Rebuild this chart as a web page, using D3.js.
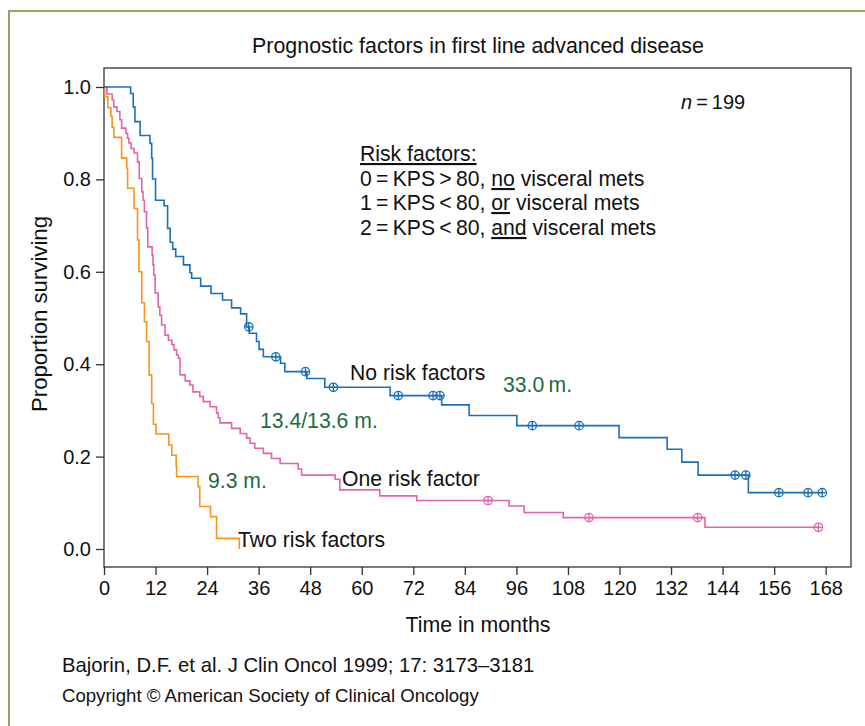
<!DOCTYPE html>
<html><head><meta charset="utf-8">
<script src="https://cdn.jsdelivr.net/npm/d3@7"></script>
<style>
body{margin:0;background:#fff}
svg{display:block}
text{font-family:"Liberation Sans",Arial,Helvetica,sans-serif;fill:#111}
</style>
</head><body>
<svg id="c" width="865" height="726"></svg>
<script>
// ---- data ----
const xTicks = [0,12,24,36,48,60,72,84,96,108,120,132,144,156,168];
const yTicks = [0,0.2,0.4,0.6,0.8,1.0];

const noRiskT = [6.2,6.8,7.2,8.4,10.7,11.1,11.3,12.0,14.0,14.8,15.4,16.0,16.7,18.5,20.0,20.4,22.5,24.9,27.6,29.7,31.8,33.2,33.8,35.5,36.1,37.1,41.1,42.1,47.2,51.4,66.6,78.6,85.0,96.1,119.9,131.1,134.5,138.3,150.0];
const noRiskS = [0.986,0.957,0.925,0.895,0.878,0.846,0.801,0.755,0.743,0.694,0.664,0.649,0.633,0.615,0.598,0.586,0.569,0.553,0.539,0.522,0.509,0.481,0.467,0.449,0.432,0.416,0.402,0.384,0.369,0.350,0.332,0.312,0.289,0.267,0.241,0.216,0.188,0.160,0.122];
const noRiskCensor = [33.7,40.0,46.9,53.4,68.5,76.6,78.2,99.7,110.6,146.9,149.4,157.1,163.9,167.2];
const noRiskEnd = 167.2;

const oneRiskT = [0.7,1.9,2.3,3.0,3.7,4.1,5.1,5.5,5.8,6.3,7.0,7.8,8.2,8.8,9.1,9.4,9.9,10.2,11.2,11.4,11.6,11.9,12.6,13.0,13.4,14.2,15.0,15.8,16.3,16.9,17.3,17.7,18.9,20.0,20.7,22.3,23.1,24.7,26.2,26.6,27.0,29.7,31.7,33.2,34.0,35.1,37.1,39.0,41.0,45.2,46.0,53.8,54.9,64.2,72.8,94.3,97.8,106.9,139.9];
const oneRiskS = [0.985,0.972,0.957,0.947,0.929,0.911,0.900,0.889,0.879,0.867,0.857,0.838,0.802,0.773,0.755,0.730,0.695,0.654,0.636,0.615,0.593,0.554,0.524,0.506,0.485,0.463,0.452,0.442,0.431,0.420,0.413,0.377,0.364,0.355,0.340,0.330,0.319,0.308,0.294,0.284,0.273,0.261,0.250,0.240,0.229,0.218,0.207,0.196,0.185,0.173,0.160,0.151,0.128,0.115,0.105,0.093,0.079,0.068,0.047];
const oneRiskCensor = [89.4,112.9,138.2,166.3];
const oneRiskEnd = 166.3;

const twoRiskT = [0.2,0.9,1.6,1.9,2.3,4.1,5.3,5.5,7.0,7.8,8.1,8.8,9.4,9.9,10.5,11.1,11.5,12.1,15.1,15.8,16.8,16.9,21.9,22.3,24.8,26.2,31.5];
const twoRiskS = [0.979,0.955,0.936,0.913,0.891,0.846,0.824,0.781,0.737,0.669,0.600,0.533,0.492,0.449,0.377,0.315,0.270,0.249,0.225,0.203,0.180,0.157,0.135,0.092,0.070,0.023,0.0];
const twoRiskCensor = [];
const twoRiskEnd = 31.5;

// ---- drawing ----
const svg = d3.select("#c");
const x = d3.scaleLinear().domain([0,168]).range([104,825.7]);
const y = d3.scaleLinear().domain([0,1]).range([549,87]);
const frame = {l:104, r:851, t:68, b:567};

// outer olive border
svg.append("path").attr("d","M9,726 V11 H865")
  .attr("fill","none").attr("stroke","#9aa062").attr("stroke-width",2);

// title
svg.append("text").attr("x",478).attr("y",53).attr("text-anchor","middle")
  .attr("font-size",21.4).text("Prognostic factors in first line advanced disease");

// plot frame
svg.append("rect").attr("x",frame.l).attr("y",frame.t)
  .attr("width",frame.r-frame.l).attr("height",frame.b-frame.t)
  .attr("fill","none").attr("stroke","#333").attr("stroke-width",1.3);

// axes
const gx = svg.append("g").attr("transform",`translate(0,${frame.b})`)
  .call(d3.axisBottom(x).tickValues(xTicks).tickSize(8).tickPadding(6));
const gy = svg.append("g").attr("transform",`translate(${frame.l},0)`)
  .call(d3.axisLeft(y).tickValues(yTicks).tickSize(8).tickPadding(5).tickFormat(d3.format(".1f")));
[gx,gy].forEach(g=>{
  g.select(".domain").remove();
  g.selectAll(".tick line").attr("stroke","#333").attr("stroke-width",1.3);
  g.selectAll(".tick text").attr("font-size",20).attr("fill","#111")
    .attr("font-family","'Liberation Sans',Arial,sans-serif");
});

// axis titles
svg.append("text").attr("x",478).attr("y",632).attr("text-anchor","middle")
  .attr("font-size",21.3).text("Time in months");
svg.append("text").attr("transform","translate(47,314) rotate(-90)")
  .attr("text-anchor","middle").attr("font-size",22.2).text("Proportion surviving");

// curves
const line = d3.line().x(d=>x(d[0])).y(d=>y(d[1])).curve(d3.curveStepAfter);
function survAt(T,S,t){let s=1;for(let i=0;i<T.length;i++){if(T[i]<=t)s=S[i];}return s;}
const series = [
  {T:twoRiskT,S:twoRiskS,C:twoRiskCensor,end:twoRiskEnd,color:"#f7931e"},
  {T:oneRiskT,S:oneRiskS,C:oneRiskCensor,end:oneRiskEnd,color:"#e065ad"},
  {T:noRiskT,S:noRiskS,C:noRiskCensor,end:noRiskEnd,color:"#1a6fb8"}
];
series.forEach(s=>{
  const pts=[[0,1]];
  s.T.forEach((t,i)=>pts.push([t,s.S[i]]));
  pts.push([s.end,s.S[s.S.length-1]]);
  svg.append("path").datum(pts).attr("d",line)
    .attr("fill","none").attr("stroke",s.color).attr("stroke-width",1.6);
  const g = svg.append("g");
  s.C.forEach(t=>{
    const cx=x(t), cy=y(survAt(s.T,s.S,t));
    g.append("circle").attr("cx",cx).attr("cy",cy).attr("r",4.2)
      .attr("fill","none").attr("stroke",s.color).attr("stroke-width",1.3);
    g.append("path").attr("d",`M${cx-4.2},${cy}H${cx+4.2}M${cx},${cy-4.2}V${cy+4.2}`)
      .attr("stroke",s.color).attr("stroke-width",1.3);
  });
});

// annotations
const green="#1c6b3c";
const annSize = 21.2;
function txt(xp,yp,str,opt={}){
  return svg.append("text").attr("x",xp).attr("y",yp).attr("font-size",opt.size||annSize)
    .style("fill",opt.color||"#111").text(str);
}
const nt = svg.append("text").attr("x",681).attr("y",109).attr("font-size",20);
nt.append("tspan").attr("font-style","italic").text("n");
nt.append("tspan").text("\u2009=\u2009199");

txt(360,161,"Risk factors:").style("text-decoration","underline");
function riskLine(yp,pre,u,post){
  const t=svg.append("text").attr("x",360).attr("y",yp).attr("font-size",annSize);
  t.append("tspan").text(pre);
  t.append("tspan").style("text-decoration","underline").text(u);
  t.append("tspan").text(post);
}
riskLine(186,"0\u2009=\u2009KPS\u2009>\u200980, ","no"," visceral mets");
riskLine(210,"1\u2009=\u2009KPS\u2009<\u200980, ","or"," visceral mets");
riskLine(235,"2\u2009=\u2009KPS\u2009<\u200980, ","and"," visceral mets");

txt(350,380,"No risk factors");
txt(503,392,"33.0\u2009m.",{color:green});
txt(260,428,"13.4/13.6 m.",{color:green});
txt(342,486,"One risk factor");
txt(208,488,"9.3 m.",{color:green});
txt(238,547,"Two risk factors");

txt(62,672,"Bajorin, D.F. et al. J Clin Oncol 1999; 17: 3173\u20133181",{size:20.3});
txt(62,702,"Copyright \u00a9 American Society of Clinical Oncology",{size:18.6});
</script>
</body></html>
